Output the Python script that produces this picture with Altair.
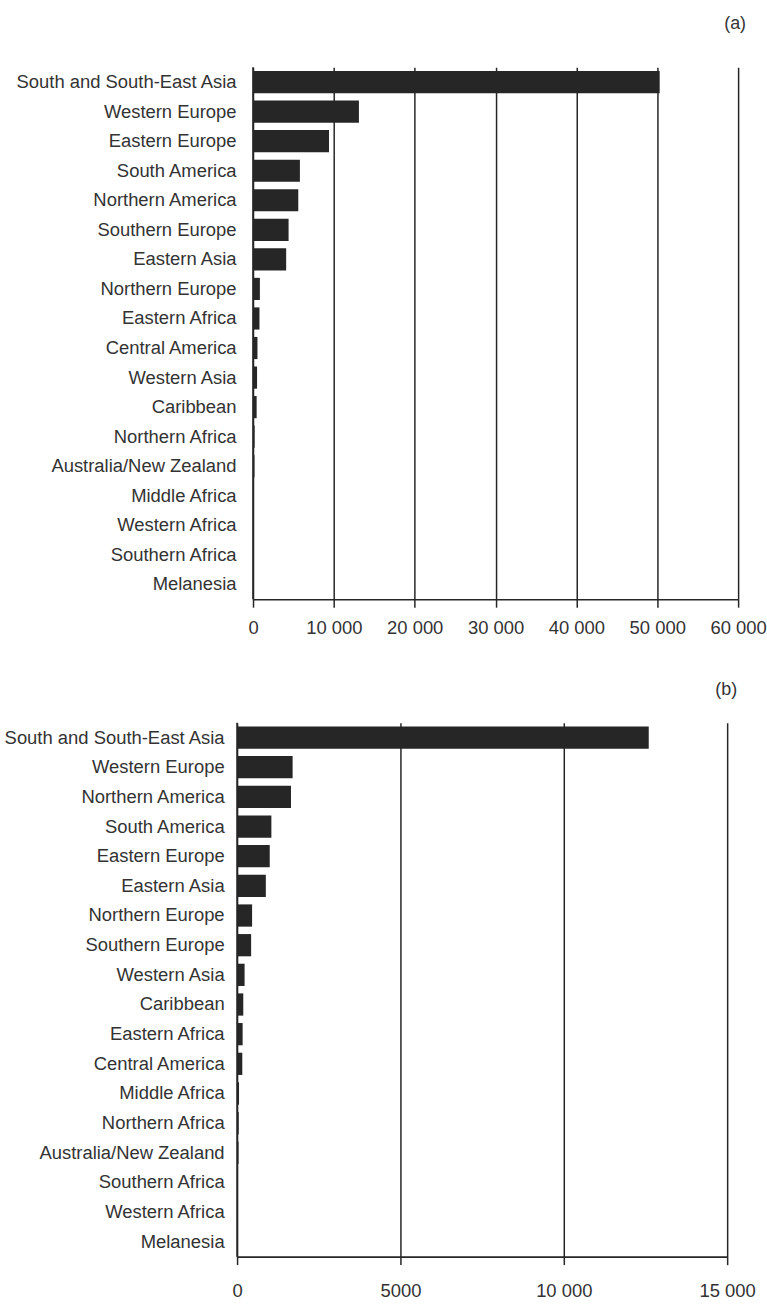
import altair as alt
import pandas as pd

# ---- data ----
regions_a = [
    "South and South-East Asia", "Western Europe", "Eastern Europe", "South America",
    "Northern America", "Southern Europe", "Eastern Asia", "Northern Europe",
    "Eastern Africa", "Central America", "Western Asia", "Caribbean",
    "Northern Africa", "Australia/New Zealand", "Middle Africa", "Western Africa",
    "Southern Africa", "Melanesia",
]
values_a = [50300, 13100, 9400, 5800, 5600, 4400, 4100, 850, 800, 550, 500, 450,
            200, 180, 80, 60, 40, 20]

regions_b = [
    "South and South-East Asia", "Western Europe", "Northern America", "South America",
    "Eastern Europe", "Eastern Asia", "Northern Europe", "Southern Europe",
    "Western Asia", "Caribbean", "Eastern Africa", "Central America",
    "Middle Africa", "Northern Africa", "Australia/New Zealand", "Southern Africa",
    "Western Africa", "Melanesia",
]
values_b = [12600, 1700, 1650, 1050, 1000, 880, 460, 430, 230, 190, 170, 160,
            60, 50, 45, 20, 15, 5]

ticks_a = [0, 10000, 20000, 30000, 40000, 50000, 60000]
ticks_b = [0, 5000, 10000, 15000]

FONT = "Liberation Sans"
INK = "#262626"
TXT = "#333333"
FS = 18.5
LABEL_EXPR = ("datum.value >= 10000 ? replace(format(datum.value, ','), ',', ' ') "
              ": format(datum.value, 'd')")


def panel(regions, values, ticks, xmax, title, width, height, x0,
          label_pad, xlabel_pad, title_dx, title_offset):
    df = pd.DataFrame({"region": regions, "value": values})
    xscale = alt.Scale(domain=[0, xmax], range=[x0, width], nice=False)
    bars = alt.Chart(df).mark_bar(color=INK).encode(
        x=alt.X(
            "value:Q", scale=xscale,
            axis=alt.Axis(
                values=ticks, title=None, grid=True, gridColor=INK, gridWidth=1.5,
                gridOpacity=1, domainColor=INK, domainWidth=1.6, tickColor=INK,
                tickSize=8, tickWidth=1.5, labelPadding=xlabel_pad, labelFontSize=FS,
                labelFont=FONT, labelColor=TXT, labelExpr=LABEL_EXPR,
                labelFlush=False,
            ),
        ),
        y=alt.Y(
            "region:N", sort=regions,
            scale=alt.Scale(paddingInner=0.25, paddingOuter=0.125),
            axis=alt.Axis(
                title=None, domain=False, ticks=False, labelPadding=label_pad,
                labelFontSize=FS, labelFont=FONT, labelColor=TXT, labelLimit=400,
            ),
        ),
    )
    zero = alt.Chart(pd.DataFrame({"value": [0]})).mark_rule(
        color=INK, strokeWidth=1.6
    ).encode(x=alt.X("value:Q"))
    return alt.layer(bars, zero).properties(
        width=width, height=height,
        title=alt.TitleParams(
            title, anchor="end", frame="group", fontSize=18, font=FONT,
            fontWeight="normal", color=TXT, dx=title_dx, offset=title_offset,
        ),
    )


chart_a = panel(regions_a, values_a, ticks_a, 60000, "(a)", 503, 534, 16, 1, 11, 8, 34)
chart_b = panel(regions_b, values_b, ticks_b, 15000, "(b)", 492, 536, 0, 13, 17, 10, 23)

chart = alt.vconcat(chart_a, chart_b, spacing=44).configure_view(
    stroke=None
).properties(
    padding={"left": 2, "top": 12, "right": 0, "bottom": 0},
    background="white",
)

chart.save("out.html", embed_options={"renderer": "svg", "actions": False})
